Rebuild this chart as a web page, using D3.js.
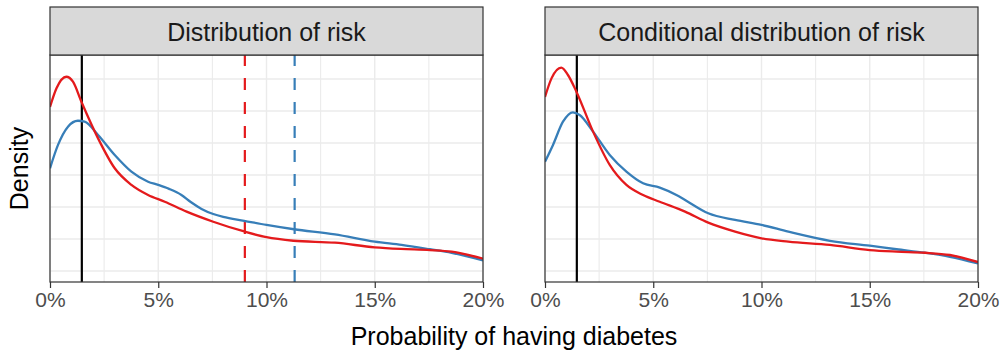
<!DOCTYPE html>
<html><head><meta charset="utf-8">
<script src="https://cdn.jsdelivr.net/npm/d3@7"></script>
<style>body{margin:0;background:#fff}svg{display:block;font-family:"Liberation Sans",Arial,sans-serif}</style>
</head><body><svg id="c" width="1003" height="350"></svg>
<script>
// ---- data (x in %, y = density) ----
const panelTitles = ["Distribution of risk", "Conditional distribution of risk"];
const xTicks = [0, 5, 10, 15, 20];
const xTickLabels = ["0%", "5%", "10%", "15%", "20%"];
const yGrid = [2, 4, 6, 8, 10, 12, 14];

const leftRedX  = [0, 0.3, 0.75, 1.06, 1.45, 2.22, 2.99, 3.76, 4.53, 5.3, 6.31, 7.54, 8.97, 10.0, 11.24, 13.16, 15.0, 16.2, 17.55, 18.55, 20];
const leftRedY  = [12.25, 13.42, 14.14, 13.83, 12.58, 10.29, 8.42, 7.38, 6.75, 6.33, 5.71, 5.08, 4.47, 4.11, 3.89, 3.77, 3.48, 3.38, 3.31, 3.21, 2.77];
const leftBlueX = [0, 0.37, 0.83, 1.29, 1.6, 2.22, 2.99, 3.76, 4.53, 5.0, 5.5, 6.07, 6.5, 7.0, 7.54, 8.0, 8.97, 10.0, 11.27, 13.16, 15.0, 16.24, 17.55, 18.55, 20];
const leftBlueY = [8.42, 9.88, 11.02, 11.39, 11.33, 10.5, 9.25, 8.21, 7.58, 7.38, 7.13, 6.75, 6.31, 5.88, 5.56, 5.38, 5.14, 4.88, 4.61, 4.29, 3.83, 3.63, 3.36, 3.14, 2.66];

const rightRedX  = [0, 0.3, 0.75, 1.06, 1.45, 2.22, 2.99, 3.76, 4.53, 5.3, 6.47, 7.54, 8.78, 10.0, 11.24, 13.16, 15.0, 16.24, 17.55, 18.7, 20];
const rightRedY  = [12.88, 14.04, 14.71, 14.25, 13.21, 10.71, 8.63, 7.38, 6.75, 6.33, 5.71, 5.02, 4.46, 4.04, 3.83, 3.63, 3.31, 3.21, 3.14, 3.0, 2.56];
const rightBlueX = [0, 0.37, 0.83, 1.29, 1.6, 2.22, 2.99, 3.76, 4.53, 5.3, 6.07, 6.47, 7.54, 8.78, 10.0, 11.24, 13.16, 15.0, 16.24, 17.55, 18.7, 20];
const rightBlueY = [8.83, 9.88, 11.33, 11.92, 11.75, 10.71, 9.25, 8.21, 7.48, 7.21, 6.75, 6.44, 5.61, 5.19, 4.88, 4.46, 3.89, 3.58, 3.36, 3.14, 2.89, 2.47];

const blackLine = 1.47;          // both panels
const redDashed = 9.0;           // left panel only
const blueDashed = 11.3;         // left panel only

const RED = "#E41A1C", BLUE = "#377EB8";

// ---- layout ----
const svg = d3.select("#c");
const panelTop = 55, panelBottom = 282, stripTop = 7;
const panelsX = [[50, 483], [545, 978]];
const y = d3.scaleLinear().domain([1.3125, 15.5]).range([panelBottom, panelTop]);

const panels = [
  {title: panelTitles[0], red: [leftRedX, leftRedY], blue: [leftBlueX, leftBlueY], dashed: true},
  {title: panelTitles[1], red: [rightRedX, rightRedY], blue: [rightBlueX, rightBlueY], dashed: false}
];

panels.forEach((p, i) => {
  const [x0, x1] = panelsX[i];
  const x = d3.scaleLinear().domain([0, 20]).range([x0, x1]);
  const g = svg.append("g");
  const clipId = "clip" + i;
  svg.append("clipPath").attr("id", clipId).append("rect")
    .attr("x", x0).attr("y", panelTop).attr("width", x1 - x0).attr("height", panelBottom - panelTop);

  // grid
  const vgrid = d3.range(0, 20.01, 2.5);
  g.selectAll(".vg").data(vgrid).join("line")
    .attr("x1", d => x(d)).attr("x2", d => x(d)).attr("y1", panelTop).attr("y2", panelBottom)
    .attr("stroke", "#EBEBEB").attr("stroke-width", d => d % 5 === 0 ? 1.4 : 1.1);
  g.selectAll(".hg").data(yGrid).join("line")
    .attr("x1", x0).attr("x2", x1).attr("y1", d => y(d)).attr("y2", d => y(d))
    .attr("stroke", "#EBEBEB").attr("stroke-width", 1.3);

  const clipG = g.append("g").attr("clip-path", `url(#${clipId})`);
  const vline = (v, color, dash) => clipG.append("line")
    .attr("x1", x(v)).attr("x2", x(v)).attr("y1", panelBottom).attr("y2", panelTop)
    .attr("stroke", color).attr("stroke-width", 2.2).attr("stroke-dasharray", dash || null);

  const line = d3.line().x(d => x(d[0])).y(d => y(d[1])).curve(d3.curveMonotoneX);
  const pts = arr => arr[0].map((v, k) => [v, arr[1][k]]);

  if (p.dashed) {
    vline(redDashed, RED, "12,12");
    vline(blueDashed, BLUE, "12,12");
  }
  vline(blackLine, "#000");
  clipG.append("path").attr("d", line(pts(p.blue))).attr("fill", "none").attr("stroke", BLUE).attr("stroke-width", 2.3);
  clipG.append("path").attr("d", line(pts(p.red))).attr("fill", "none").attr("stroke", RED).attr("stroke-width", 2.3);

  // panel border
  g.append("rect").attr("x", x0).attr("y", panelTop).attr("width", x1 - x0).attr("height", panelBottom - panelTop)
    .attr("fill", "none").attr("stroke", "#333333").attr("stroke-width", 1.2);
  // strip
  g.append("rect").attr("x", x0).attr("y", stripTop).attr("width", x1 - x0).attr("height", panelTop - stripTop)
    .attr("fill", "#D9D9D9").attr("stroke", "#333333").attr("stroke-width", 1.2);
  g.append("text").attr("x", (x0 + x1) / 2).attr("y", 41).attr("text-anchor", "middle")
    .attr("font-size", 25).attr("fill", "#1A1A1A").text(p.title);

  // x axis
  const axis = d3.axisBottom(x).tickValues(xTicks).tickFormat((d, k) => xTickLabels[k]).tickSize(6).tickPadding(4);
  const ag = g.append("g").attr("transform", `translate(0,${panelBottom})`).call(axis);
  ag.select(".domain").remove();
  ag.selectAll(".tick line").attr("stroke", "#333333").attr("stroke-width", 1.2);
  ag.selectAll(".tick text").attr("font-size", 21).attr("fill", "#4D4D4D")
    .attr("font-family", "'Liberation Sans', Arial, sans-serif");
});

// axis titles
svg.append("text").attr("x", 514).attr("y", 345).attr("text-anchor", "middle")
  .attr("font-size", 25).attr("fill", "#000").text("Probability of having diabetes");
svg.append("text").attr("transform", `translate(28,${(panelTop + panelBottom) / 2}) rotate(-90)`)
  .attr("text-anchor", "middle").attr("font-size", 25).attr("fill", "#000").text("Density");
</script></body></html>
